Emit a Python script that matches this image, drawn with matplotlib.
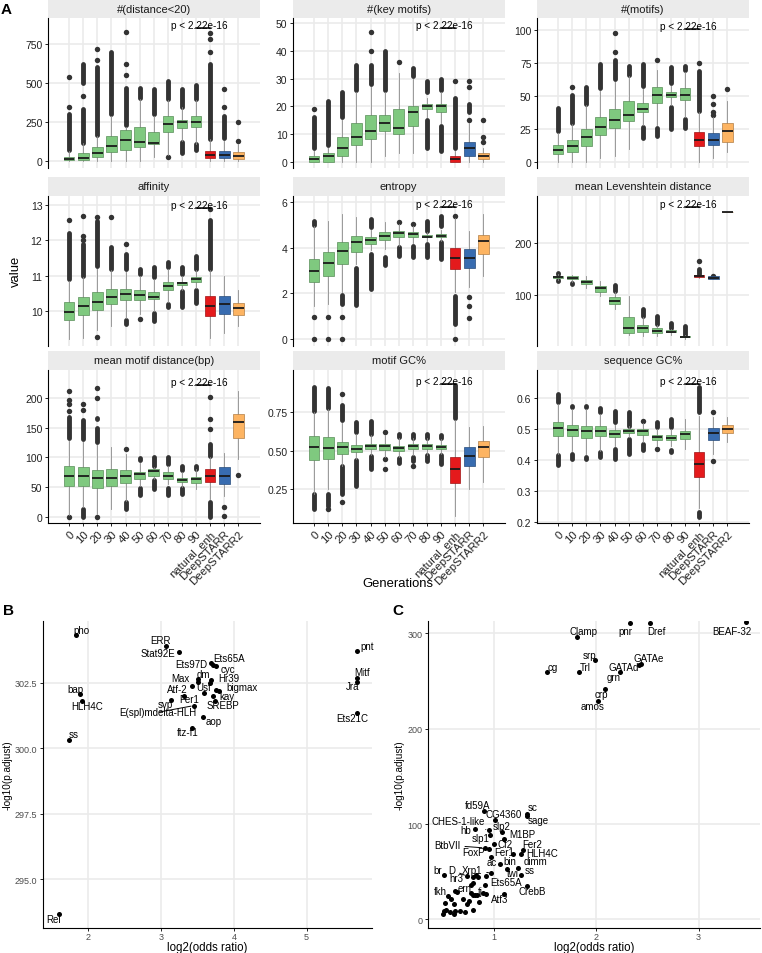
import numpy as np
import matplotlib
matplotlib.use('Agg')
import matplotlib.pyplot as plt
import matplotlib.colors as mcolors

plt.rcParams['font.family'] = ['Liberation Sans', 'DejaVu Sans']

# ---------------- panel A data ----------------
gens = ['0', '10', '20', '30', '40', '50', '60', '70', '80', '90',
        'natural_enh', 'DeepSTARR', 'DeepSTARR2']
box_cols = ['#7FC97F'] * 10 + ['#E41A1C', '#386CB0', '#FDB462']

# (whislo, q1, median, q3, whishi) per generation; outliers as (lo, hi) runs
dist20_box = [(0, 5, 12, 30, 65), (0, 10, 21, 53, 115), (0, 26, 53, 90, 160),
              (0, 62, 100, 164, 290), (0, 75, 135, 198, 220), (0, 90, 121, 218, 400),
              (30, 110, 117, 185, 290), (40, 185, 236, 292, 390), (130, 210, 250, 265, 345),
              (112, 217, 254, 288, 394), (0, 19, 42, 68, 140), (0, 19, 42, 64, 130),
              (0, 15, 36, 58, 110)]
dist20_out = [[(70, 300), (345, 345), (540, 540)], [(120, 335), (420, 420), (500, 620)],
              [(165, 600), (645, 645), (715, 715)], [(300, 700)],
              [(230, 470), (552, 552), (620, 620), (825, 825)], [(405, 470)], [(300, 465)],
              [(400, 515), (25, 25)], [(350, 460), (50, 125)], [(400, 490), (70, 108)],
              [(145, 620), (700, 700), (782, 782), (822, 822)],
              [(150, 292), (345, 345), (465, 465)], [(132, 132), (250, 250)]]

keymot_box = [(0, 0, 1, 2, 4), (0, 0, 2, 3, 5), (0, 2, 5, 9, 15), (0, 6, 9, 14, 25),
              (0, 8, 11, 17, 27), (2, 11, 14, 17, 25), (3, 10, 12, 19, 32), (3, 13, 18, 20, 30),
              (16, 19, 20, 21, 23), (14, 18, 20, 21, 25), (0, 0, 1, 2, 4), (0, 2, 5, 7, 14),
              (0, 1, 2, 3, 5)]
keymot_out = [[(5, 16), (19, 19)], [(6, 22)], [(16, 25)], [(26, 35)],
              [(28, 35), (40, 40), (47, 47)], [(26, 40)], [(36, 36)], [(31, 34)],
              [(25, 29), (5, 15)], [(26, 30), (4, 13)], [(5, 23), (29, 29)],
              [(15, 15), (18, 21), (27, 27), (29, 29)], [(7, 7), (9, 9), (15, 15)]]

motifs_box = [(0, 6, 9, 13, 22), (0, 8, 12, 17, 29), (0, 12, 19, 25, 43), (3, 21, 27, 34, 54),
              (5, 26, 32, 40, 61), (10, 31, 36, 46, 65), (28, 38, 40, 45, 55),
              (28, 45, 51, 57, 70), (43, 49, 51, 53, 58), (34, 47, 51, 56, 68),
              (0, 12, 17, 23, 38), (3, 13, 17, 22, 34), (8, 15, 24, 30, 46)]
motifs_out = [[(24, 41)], [(30, 51), (57, 57)], [(44, 57)], [(56, 74)],
              [(63, 77), (83, 83), (98, 98)], [(66, 73)], [(58, 74), (18, 27)],
              [(20, 26), (77, 77)], [(60, 72), (25, 42)], [(70, 73), (26, 33)],
              [(39, 69), (75, 75)], [(36, 36), (38, 38), (44, 44), (50, 50)], [(55, 55)]]

affin_box = [(9.2, 9.74, 9.96, 10.24, 10.85), (9.24, 9.89, 10.14, 10.40, 10.95),
             (9.45, 10.02, 10.24, 10.52, 11.2), (9.58, 10.19, 10.4, 10.63, 11.15),
             (9.8, 10.3, 10.48, 10.63, 11.1), (9.9, 10.3, 10.44, 10.6, 10.98),
             (10.0, 10.33, 10.4, 10.52, 10.9), (10.25, 10.6, 10.71, 10.82, 11.2),
             (10.6, 10.72, 10.78, 10.82, 10.98), (10.65, 10.83, 10.9, 10.95, 11.15),
             (9.24, 9.86, 10.13, 10.43, 11.15), (9.38, 9.92, 10.18, 10.43, 11.0),
             (9.57, 9.89, 10.09, 10.21, 10.58)]
affin_out = [[(10.9, 12.2), (12.58, 12.58)],
             [(11.0, 11.9), (12.0, 12.0), (12.13, 12.13), (12.7, 12.7)],
             [(11.28, 12.55), (12.66, 12.66), (9.25, 9.25)], [(11.2, 11.82), (12.65, 12.65)],
             [(11.18, 11.6), (11.9, 11.9), (9.62, 9.74)], [(11.05, 11.2), (9.76, 9.76)],
             [(10.95, 11.23), (9.72, 9.95)], [(11.25, 11.38), (10.1, 10.2)],
             [(11.05, 11.23), (10.12, 10.55)], [(11.2, 11.57), (10.22, 10.6)],
             [(11.2, 12.58), (12.88, 12.88)], [], []]

entropy_box = [(1.46, 2.49, 3.0, 3.51, 4.95), (1.54, 2.78, 3.32, 3.8, 5.2),
               (2.05, 3.29, 3.88, 4.24, 5.49), (3.3, 3.83, 4.27, 4.53, 5.34),
               (3.9, 4.17, 4.35, 4.46, 4.8), (3.95, 4.35, 4.54, 4.68, 5.15),
               (4.1, 4.46, 4.64, 4.76, 5.05), (4.2, 4.49, 4.6, 4.68, 4.95),
               (4.3, 4.46, 4.49, 4.57, 4.72), (4.3, 4.46, 4.54, 4.6, 4.8),
               (2.05, 3.07, 3.54, 3.98, 5.3), (2.27, 3.1, 3.54, 3.95, 4.76),
               (2.78, 3.73, 4.32, 4.58, 5.49)]
entropy_out = [[(5.0, 5.2), (0.95, 0.95), (0, 0)], [(0.95, 0.95), (0, 0)],
               [(1.54, 1.93), (0.95, 0.95), (0, 0)], [(1.5, 3.1)],
               [(4.9, 5.27), (2.2, 3.75)], [(3.25, 3.6)], [(5.12, 5.12), (3.66, 4.02)],
               [(5.05, 5.05), (3.6, 4.1)], [(4.76, 5.2), (3.6, 4.17)],
               [(4.97, 5.41), (3.51, 4.24)], [(5.41, 5.41), (0.66, 1.9), (0, 0)],
               [(1.83, 1.83), (1.46, 1.46), (0.92, 0.92)], []]

leven_box = [(129, 133, 135, 137, 140), (124, 130.8, 133, 135.9, 139),
             (113, 121, 125.6, 129.5, 136), (98.7, 106.4, 112.8, 118, 127.6),
             (73, 82.7, 89, 95.5, 105), (23, 27, 36, 57, 98.7), (22, 28, 36, 42, 58),
             (22, 27, 31.4, 36, 43), (23, 28, 29.5, 32, 35), (16, 18.6, 20, 21.8, 23),
             (132, 134, 136, 138.5, 139), (130, 130.8, 132.7, 136, 136),
             (260, 260, 260, 260, 260)]
leven_out = [[(126, 128), (141, 142)], [(121, 123), (140, 141)], [], [], [(108, 119)], [],
             [(60, 73)], [(45, 60)], [(37, 46)], [(24, 41)], [(140, 150), (166, 166)],
             [(137, 137)], []]

motdist_box = [(3, 51, 69, 85, 128), (16, 52, 69, 83, 125), (5, 49, 65, 78, 120),
               (13, 51, 65, 80, 117), (27, 56, 69, 79, 105), (52, 63.5, 72, 76, 90),
               (63, 69, 77, 80, 84), (55, 63.5, 69, 75, 85), (50, 58, 62, 66, 75),
               (47, 56, 63, 67, 80), (30, 58, 69, 80, 100), (35, 55, 69, 83, 108),
               (97, 133, 159, 173, 212)]
motdist_out = [[(132, 168), (178, 178), (190, 190), (197, 197), (211, 211), (0, 0)],
               [(130, 162), (179, 179), (190, 190), (0, 13)],
               [(126, 150), (165, 167), (200, 200), (217, 217), (0, 0)], [],
               [(114, 114), (13, 24)], [(95, 99), (36, 49)], [(85, 100), (47, 62)],
               [(88, 100), (36, 49)], [(78, 86), (38, 48)], [(81, 86)],
               [(103, 122), (148, 148), (165, 165), (201, 201), (0, 24)],
               [(16, 16), (2, 2)], [(70, 70)]]

motgc_box = [(0.22, 0.44, 0.526, 0.598, 0.75), (0.25, 0.445, 0.517, 0.587, 0.77),
             (0.4, 0.478, 0.526, 0.559, 0.68), (0.445, 0.489, 0.51, 0.537, 0.61),
             (0.47, 0.511, 0.532, 0.543, 0.6), (0.46, 0.507, 0.528, 0.543, 0.6),
             (0.46, 0.5, 0.515, 0.532, 0.58), (0.47, 0.511, 0.532, 0.543, 0.58),
             (0.47, 0.511, 0.532, 0.543, 0.58), (0.48, 0.511, 0.526, 0.537, 0.575),
             (0.076, 0.29, 0.38, 0.456, 0.70), (0.25, 0.402, 0.467, 0.522, 0.652),
             (0.293, 0.456, 0.522, 0.565, 0.663)]
motgc_out = [[(0.76, 0.913), (0.12, 0.217)], [(0.78, 0.91), (0.14, 0.217), (0.12, 0.12)],
             [(0.70, 0.80), (0.87, 0.87), (0.22, 0.40), (0.167, 0.167)],
             [(0.62, 0.685), (0.27, 0.44)], [(0.61, 0.695), (0.38, 0.467)],
             [(0.62, 0.62), (0.445, 0.445), (0.38, 0.38)], [(0.59, 0.61), (0.42, 0.45)],
             [(0.585, 0.61), (0.40, 0.40), (0.43, 0.46)], [(0.585, 0.61), (0.435, 0.47)],
             [(0.585, 0.6), (0.41, 0.47)], [(0.71, 0.93)], [], []]

seqgc_box = [(0.42, 0.478, 0.504, 0.523, 0.58), (0.43, 0.478, 0.498, 0.514, 0.565),
             (0.42, 0.472, 0.494, 0.51, 0.565), (0.43, 0.478, 0.494, 0.51, 0.55),
             (0.445, 0.475, 0.486, 0.498, 0.515), (0.475, 0.488, 0.494, 0.502, 0.51),
             (0.46, 0.482, 0.493, 0.502, 0.52), (0.445, 0.464, 0.474, 0.482, 0.5),
             (0.445, 0.464, 0.472, 0.482, 0.5), (0.437, 0.47, 0.485, 0.496, 0.534),
             (0.245, 0.346, 0.389, 0.427, 0.544), (0.421, 0.467, 0.488, 0.504, 0.539),
             (0.459, 0.488, 0.502, 0.514, 0.539)]
seqgc_out = [[(0.587, 0.614), (0.384, 0.416)], [(0.572, 0.576), (0.405, 0.421)],
             [(0.572, 0.576), (0.405, 0.412)], [(0.555, 0.568), (0.41, 0.427)],
             [(0.523, 0.56), (0.405, 0.437)], [(0.512, 0.557), (0.421, 0.47)],
             [(0.528, 0.528), (0.432, 0.453)], [(0.507, 0.523), (0.437, 0.437)],
             [(0.507, 0.534), (0.427, 0.432)], [], [(0.556, 0.635), (0.218, 0.234)],
             [(0.557, 0.557), (0.398, 0.398)], []]

facet_titles = ['#(distance<20)', '#(key motifs)', '#(motifs)', 'affinity', 'entropy',
                'mean Levenshtein distance', 'mean motif distance(bp)', 'motif GC%',
                'sequence GC%']
pval_label = 'p < 2.22e-16'
pval_y = [850, 48.2, 100.8, 12.93, 5.78, 268.6, 222, 0.935, 0.646]

# ---------------- panel B data ----------------
b_tf = ['pho', 'ERR', 'Stat92E', 'Ets97D', 'Ets65A', 'cyc', 'dm', 'Max', 'Hr39', 'Atf-2',
        'Usf', 'bigmax', 'kay', 'Fer1', 'SREBP', 'svp', 'E(spl)mdelta-HLH', 'aop', 'ftz-f1',
        'bap', 'HLH4C', 'ss', 'Rel', 'pnt', 'Mitf', 'Jra', 'Ets21C', '', '']
b_lor = [1.83, 3.06, 3.25, 3.68, 3.71, 3.75, 3.50, 3.50, 3.69, 3.42, 3.59, 3.76, 3.79,
         3.31, 3.74, 3.13, 3.45, 3.57, 3.43, 1.88, 1.91, 1.73, 1.60, 5.70, 5.70, 5.70, 5.70,
         3.72, 3.67]
b_logp = [304.33, 303.89, 303.67, 303.25, 303.18, 303.13, 302.64, 302.52, 302.58, 302.35,
          302.11, 302.2, 302.17, 302.0, 301.79, 301.84, 301.62, 301.2, 300.76, 302.06, 301.8,
          300.32, 293.66, 303.71, 302.67, 302.54, 301.32, 302.0, 302.5]
# label offsets from the point, in pixels (right, up)
b_off = [(5.7, 5), (-5, 5.7), (-21.7, -1), (-19.7, -1), (16.7, 6.7), (12, -3.3), (5.7, 5.3),
         (-16.7, 3.7), (17.7, 2.3), (-14, -2.3), (-0.3, 5.3), (25.7, 3), (8.3, -5), (5.7, -3),
         (8.3, -3.7), (-5.7, -4), (-36, -6.7), (11, -4.3), (-4.3, -4), (-4.3, 5.3),
         (5.3, -4.7), (5, 5.7), (-5.7, -5), (9.3, 4.7), (5, 6), (-5, -4.3), (-5.3, -4.7),
         (0, 0), (0, 0)]
b_seg = ['E(spl)mdelta-HLH']

# ---------------- panel C data ----------------
c_tf = ['BEAF-32', 'Dref', 'pnr', 'Clamp', 'srp', 'GATAe', 'GATAd', 'grn', 'crp', 'amos',
        'cg', 'Trl', 'sc', 'sage', 'fd59A', 'CG4360', 'CHES-1-like', 'hb', 'slp2', 'slp1',
        'M1BP', 'Cf2', 'BtbVII', 'FoxP', 'Fer1', 'Fer2', 'HLH4C', 'ac', 'bin', 'dimm',
        'twi', 'ss', 'br', 'D', 'Xrp1', 'hr3', 'Ets65A', 'CrebB', 'ern', 'tj', 'fkh', 'Atf3']
c_lor = [3.463, 2.524, 2.33, 1.816, 1.993, 2.44, 2.42, 2.23, 2.09, 2.02, 1.524, 1.832,
         1.33, 1.33, 0.906, 1.013, 0.951, 0.816, 1.081, 0.968, 1.104, 1.003, 0.913, 0.951,
         1.187, 1.284, 1.269, 0.978, 1.058, 1.236, 1.129, 1.269, 0.515, 0.741, 0.978, 0.799,
         0.919, 1.327, 0.784, 0.818, 0.556, 1.104]
c_logp = [312.1, 311.4, 310.4, 296.5, 271.9, 268.3, 267.3, 259.7, 241.3, 229.5, 260, 259.7,
          110.7, 108.6, 114.2, 103.8, 93.4, 95.1, 91.7, 88.5, 84.7, 79.2, 75, 74.3, 68.7,
          72.5, 69.1, 65.2, 58.6, 54.2, 53.1, 46.1, 46.5, 45.4, 48.5, 38.5, 35.7, 35, 36.4,
          25.6, 24.6, 26.4]
c_off = [(-14.3, -8.7), (6.3, -8), (-4.3, -7.7), (6, 5.7), (-5.7, 5.3), (7.7, 6),
         (-15.7, -2.3), (-5.7, -5), (-4.3, -4.7), (-5.3, -5), (5.3, 4.7), (6.3, 5),
         (5.3, 6.7), (11.3, -4), (-6, 5.7), (8.7, 6.7), (-30.7, 9), (-9.3, -1), (0, 6.3),
         (-9.7, -3.3), (17.7, 4.7), (11.3, 0.3), (-37, 2.7), (-15, -3.3), (-8.3, 2),
         (10, 6.7), (21, 0.7), (0, -5), (10.7, 3), (17.7, 6.7), (6, -4.7), (8.7, 5),
         (-5.7, 5), (-15, 6), (-19, 3), (-16.7, 4.3), (21, 3.3), (5, -5), (-6.7, -3.7),
         (5.7, 4), (-7.7, 5), (-4.7, -5)]
c_seg = ['CHES-1-like', 'BtbVII', 'D', 'Xrp1', 'dimm']
# unlabelled enriched motifs
c_lor_rest = [0.58, 0.53, 0.515, 0.51, 0.54, 0.57, 0.61, 0.62, 0.61, 0.67, 0.70, 0.74, 0.76,
              0.776, 0.80, 0.83, 0.85, 0.80, 0.838, 0.857, 0.725, 0.80, 0.90, 0.93, 0.93,
              0.62, 0.64]
c_logp_rest = [21.1, 17, 9, 5.5, 10, 8, 16, 9, 5.5, 9, 21, 16, 19, 28, 44.4, 46.8, 44.4, 26,
               26, 18.7, 8, 10, 28, 27, 46, 29.5, 28.7]

W, H = 762, 954
fig = plt.figure(figsize=(W / 100, H / 100), dpi=100)


def px_axes(l, t, r, b):
    return fig.add_axes([l / W, 1 - b / H, (r - l) / W, (b - t) / H])


GRID = '#EBEBEB'


def box_panel(ax, boxes, outs, ylim, yticks, yfmt, py, bottom_row):
    pos = np.arange(len(gens))
    for i, runs in enumerate(outs):
        for lo, hi in runs:
            if hi > lo:
                ax.plot([i, i], [lo, hi], color='#333333', lw=3.5,
                        solid_capstyle='round', zorder=2)
            else:
                ax.plot(i, lo, 'o', color='#333333', ms=3.9, mew=0, zorder=2)
    stats = [dict(whislo=b[0], q1=b[1], med=b[2], q3=b[3], whishi=b[4], fliers=[])
             for b in boxes]
    bp = ax.bxp(stats, positions=pos, widths=0.75, patch_artist=True, showfliers=False,
                showcaps=False, boxprops=dict(linewidth=0.5, zorder=3),
                whiskerprops=dict(color='#8c8c8c', linewidth=0.6, zorder=2.5),
                medianprops=dict(color='#1a1a1a', linewidth=1.3, zorder=3.5))
    for patch, c in zip(bp['boxes'], box_cols):
        patch.set_facecolor(c)
        patch.set_edgecolor(tuple(np.array(mcolors.to_rgb(c)) * 0.7))
    ax.plot([9, 10], [py, py], color='black', lw=1.1, zorder=4)
    ax.text(9.25, py, pval_label, ha='center', va='baseline', fontsize=7.2, zorder=5)
    ax.set_xlim(-1.5, 13.5)
    ax.set_ylim(*ylim)
    ax.set_yticks(yticks)
    ax.set_yticklabels([yfmt.format(v) for v in yticks])
    ax.set_xticks(pos)
    ax.set_axisbelow(True)
    ax.grid(color=GRID, lw=1.2)
    for s in ['top', 'right']:
        ax.spines[s].set_visible(False)
    ax.spines['left'].set_linewidth(0.8)
    ax.tick_params(axis='y', labelsize=7.5, length=2.5, width=0.6, pad=1.5,
                   labelcolor='#222222')
    if bottom_row:
        ax.spines['bottom'].set_linewidth(0.8)
        ax.set_xticklabels(gens, rotation=45, ha='right', rotation_mode='anchor')
        ax.tick_params(axis='x', labelsize=8.2, length=2.5, width=0.6, pad=1.5,
                       labelcolor='#222222')
    else:
        ax.spines['bottom'].set_visible(False)
        ax.tick_params(axis='x', length=0, labelbottom=False)


panel_boxes = [dist20_box, keymot_box, motifs_box, affin_box, entropy_box, leven_box,
               motdist_box, motgc_box, seqgc_box]
panel_outs = [dist20_out, keymot_out, motifs_out, affin_out, entropy_out, leven_out,
              motdist_out, motgc_out, seqgc_out]
panel_ylim = [(-43, 916), (-2.3, 51.9), (-4.3, 109), (9.0, 13.26), (-0.31, 6.28), (2, 290),
              (-10.6, 247), (0.028, 1.026), (0.198, 0.691)]
panel_ticks = [[0, 250, 500, 750], [0, 10, 20, 30, 40, 50], [0, 25, 50, 75, 100],
               [10, 11, 12, 13], [0, 2, 4, 6], [100, 200], [0, 50, 100, 150, 200],
               [0.25, 0.5, 0.75], [0.2, 0.3, 0.4, 0.5, 0.6]]
panel_fmt = ['{:.0f}'] * 7 + ['{:.2f}', '{:.1f}']

col_left = [48, 293, 537]
col_w = 211.5
rows = [(1, 19, 169), (178, 197, 347), (352, 371, 524)]

for k in range(9):
    r, c = divmod(k, 3)
    st, pt, pb = rows[r]
    l = col_left[c]
    sax = px_axes(l, st, l + col_w, pt)
    sax.set_facecolor(GRID)
    sax.set_xticks([])
    sax.set_yticks([])
    for s in sax.spines.values():
        s.set_visible(False)
    sax.text(0.5, 0.5, facet_titles[k], ha='center', va='center', fontsize=8,
             color='#1a1a1a', transform=sax.transAxes)
    ax = px_axes(l, pt, l + col_w, pb)
    box_panel(ax, panel_boxes[k], panel_outs[k], panel_ylim[k], panel_ticks[k],
              panel_fmt[k], pval_y[k], r == 2)

fig.text(16 / W, 1 - 271 / H, 'value', rotation=90, ha='center', va='center', fontsize=9.4)
fig.text(398 / W, 1 - 584 / H, 'Generations', ha='center', va='center', fontsize=9.4)


def scatter_panel(ax, xs, ys, names, offs, segs, xlim, ylim, xticks, yticks, yfmt):
    ax.scatter(xs, ys, s=13, color='black', zorder=3, linewidths=0)
    for x, y, n, (dx, dy) in zip(xs, ys, names, offs):
        if not n:
            continue
        kw = {}
        if n in segs:
            kw['arrowprops'] = dict(arrowstyle='-', lw=0.7, color='black',
                                    shrinkA=1, shrinkB=2)
        ax.annotate(n, (x, y), xytext=(dx * 0.72, dy * 0.72), textcoords='offset points',
                    ha='center', va='center', fontsize=7, zorder=4, **kw)
    ax.set_xlim(*xlim)
    ax.set_ylim(*ylim)
    ax.set_xticks(xticks)
    ax.set_yticks(yticks)
    ax.set_yticklabels([yfmt.format(v) for v in yticks])
    ax.set_axisbelow(True)
    ax.grid(color=GRID, lw=1.2)
    for s in ['top', 'right']:
        ax.spines[s].set_visible(False)
    for s in ['left', 'bottom']:
        ax.spines[s].set_linewidth(0.8)
    ax.tick_params(axis='y', labelsize=6.5, length=2.5, width=0.6, pad=1.5,
                   labelcolor='#4d4d4d')
    ax.tick_params(axis='x', labelsize=6.5, length=2.5, width=0.6, pad=0.5,
                   labelcolor='#4d4d4d')
    ax.set_xlabel('log2(odds ratio)', fontsize=8.3, va='center')
    ax.xaxis.set_label_coords(0.5, -19 / 307)
    ax.set_ylabel('-log10(p.adjust)', fontsize=7.2, labelpad=2)


axB = px_axes(43, 622, 372, 929)
scatter_panel(axB, b_lor, b_logp, b_tf, b_off, b_seg, (1.375, 5.9), (293.13, 304.85),
              [2, 3, 4, 5], [295.0, 297.5, 300.0, 302.5], '{:.1f}')

axC = px_axes(428, 622, 760, 929)
scatter_panel(axC, c_lor + c_lor_rest, c_logp + c_logp_rest,
              c_tf + [''] * len(c_lor_rest), c_off + [(0, 0)] * len(c_lor_rest), c_seg,
              (0.36, 3.6), (-9, 313), [1, 2, 3], [0, 100, 200, 300], '{:.0f}')

fig.text(6 / W, 1 - 10 / H, 'A', fontsize=11, fontweight='bold', ha='center', va='center')
fig.text(8 / W, 1 - 611 / H, 'B', fontsize=11, fontweight='bold', ha='center', va='center')
fig.text(398 / W, 1 - 611 / H, 'C', fontsize=11, fontweight='bold', ha='center', va='center')

fig.savefig('out.png', dpi=100)
